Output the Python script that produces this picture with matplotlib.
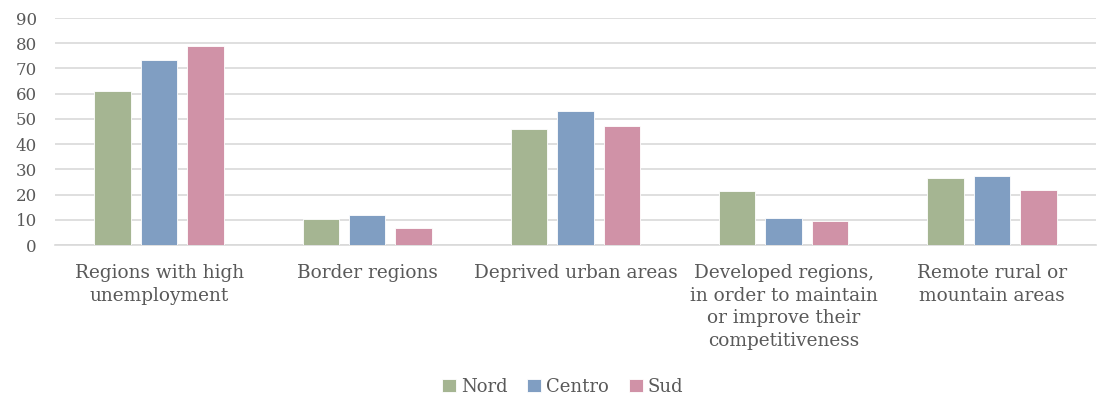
import numpy as np
import matplotlib.pyplot as plt

categories = ['Regions with high\nunemployment', 'Border regions', 'Deprived urban areas',
              'Developed regions,\nin order to maintain\nor improve their\ncompetitiveness',
              'Remote rural or\nmountain areas']
series_names = ['Nord', 'Centro', 'Sud']
nord = [61, 10.5, 46, 21.5, 26.5]
centro = [73.5, 12, 53, 10.7, 27.2]
sud = [79, 6.8, 47, 9.5, 22]
colors = ['#A5B592', '#809EC2', '#D092A7']

plt.rcParams['font.family'] = ['DejaVu Serif']
text_color = '#595959'

fig = plt.figure(figsize=(10.97, 4.01), dpi=100)
ax = fig.add_axes([0.0501, 0.389, 0.949, 0.566])

x = np.arange(len(categories))
width = 0.175
offset = 0.223
for i, (vals, name) in enumerate(zip([nord, centro, sud], series_names)):
    ax.bar(x + (i - 1) * offset, vals, width, color=colors[i], label=name,
           edgecolor='white', linewidth=0.6, zorder=3)

ax.set_xlim(-0.5, len(categories) - 0.5)
ax.set_ylim(0, 90)
ax.set_yticks(range(0, 91, 10))
ax.yaxis.grid(True, color='#d9d9d9', linewidth=1.2, zorder=0)
ax.set_axisbelow(True)
for s in ['top', 'right', 'left']:
    ax.spines[s].set_visible(False)
ax.spines['bottom'].set_color('#d9d9d9')
ax.spines['bottom'].set_linewidth(1.2)
ax.tick_params(axis='both', length=0, colors=text_color)
ax.tick_params(axis='y', labelsize=12, pad=13)
ax.set_xticks(x)
ax.set_xticklabels(categories, fontsize=13.3, color=text_color, linespacing=1.32, va='top')
ax.tick_params(axis='x', pad=14)

leg = fig.legend(loc='center', bbox_to_anchor=(0.513, 0.035), ncol=3, frameon=False,
                 fontsize=13, handlelength=0.75, handleheight=0.75, handletextpad=0.3,
                 columnspacing=1.1)
for t in leg.get_texts():
    t.set_color(text_color)

plt.savefig('out.png', dpi=100)
